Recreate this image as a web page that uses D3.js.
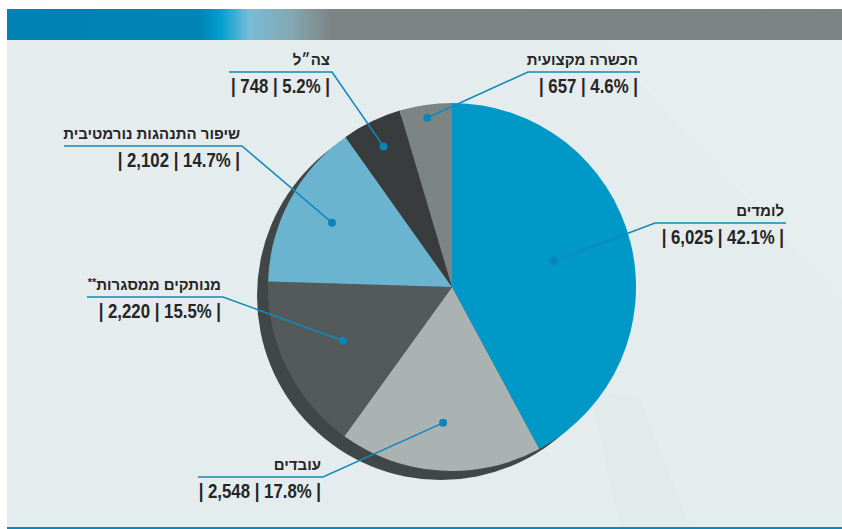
<!DOCTYPE html>
<html>
<head>
<meta charset="utf-8">
<script src="https://cdn.jsdelivr.net/npm/d3@7"></script>
<style>
  body { margin: 0; background: #fff; }
  svg { display: block; }
  .name { font-family: "Liberation Sans", "DejaVu Sans", sans-serif; font-weight: bold; font-size: 15px; fill: #262424; }
  .vals { font-family: "Liberation Sans", sans-serif; font-weight: bold; font-size: 20px; fill: #262424; }
</style>
</head>
<body>
<div id="chart"></div>
<script>
var categories = ["לומדים", "עובדים", "מנותקים ממסגרות", "שיפור התנהגות נורמטיבית", "צה״ל", "הכשרה מקצועית"];
var counts = [6025, 2548, 2220, 2102, 748, 657];
var percents = [42.1, 17.8, 15.5, 14.7, 5.2, 4.6];
var marks = ["", "", "**", "", "", ""];

var colors = ["#0099c7", "#aab2b2", "#545a5a", "#6bb4d0", "#383c3d", "#7d8484"];

// label placement: horizontal rule [x near pie, x far], y of rule, radial spot of the dot
var labelLayout = [
  { near: 655, far: 786, y: 223, dotR: 0.57 },
  { near: 323, far: 198, y: 477, dotR: 0.74 },
  { near: 223, far: 87, y: 297, dotR: 0.66 },
  { near: 242, far: 64, y: 146, dotR: 0.74 },
  { near: 332, far: 229, y: 72, dotR: 0.85 },
  { near: 528, far: 640, y: 72, dotR: 0.93 }
];

var width = 842, height = 529;
var cx = 452, cy = 287, radius = 184;

var svg = d3.select("#chart").append("svg")
  .attr("width", width)
  .attr("height", height);

var defs = svg.append("defs");
var grad = defs.append("linearGradient")
  .attr("id", "band")
  .attr("x1", 0).attr("x2", 1).attr("y1", 0).attr("y2", 0);
[[0, "#0082b4"], [0.23, "#0085b6"], [0.255, "#009fcf"], [0.29, "#79bcd8"], [0.34, "#84a8b2"], [0.39, "#7c8384"], [1, "#7e8383"]]
  .forEach(function(s) {
    grad.append("stop").attr("offset", s[0]).attr("stop-color", s[1]);
  });

// panel background
svg.append("rect")
  .attr("x", 7).attr("y", 40)
  .attr("width", width - 7).attr("height", 488)
  .attr("fill", "#e4ecee");

// faint light streaks in the background
svg.append("path")
  .attr("d", "M600,40 L842,40 L842,300 Z")
  .attr("fill", "#ffffff").attr("opacity", 0.1);
svg.append("path")
  .attr("d", "M590,390 L640,400 L690,528 L620,528 Z")
  .attr("fill", "#dfe7ea").attr("opacity", 0.5);

// top band
svg.append("rect")
  .attr("x", 7).attr("y", 9)
  .attr("width", width - 7).attr("height", 31)
  .attr("fill", "url(#band)");

// bottom rule
svg.append("rect")
  .attr("x", 7).attr("y", 527)
  .attr("width", width - 7).attr("height", 2)
  .attr("fill", "#0a87bd");

var pie = d3.pie().sort(null).value(function(d) { return d; });
var arcs = pie(counts);

var arc = d3.arc().innerRadius(0).outerRadius(radius);

// shadow disc
svg.append("circle")
  .attr("cx", cx - 11).attr("cy", cy + 9)
  .attr("r", radius)
  .attr("fill", "#414646");

var pieG = svg.append("g")
  .attr("transform", "translate(" + cx + "," + cy + ")");

pieG.selectAll("path")
  .data(arcs)
  .enter()
  .append("path")
  .attr("d", arc)
  .attr("fill", function(d, i) { return colors[i]; });

// leaders and labels
var lineColor = "#1388bb";

arcs.forEach(function(a, i) {
  var lay = labelLayout[i];
  var dotArc = d3.arc().innerRadius(0).outerRadius(radius * lay.dotR * 2);
  var c = dotArc.centroid(a);
  var dx = cx + c[0], dy = cy + c[1];

  svg.append("polyline")
    .attr("points", [[dx, dy], [lay.near, lay.y], [lay.far, lay.y]].map(function(p) { return p.join(","); }).join(" "))
    .attr("fill", "none")
    .attr("stroke", lineColor)
    .attr("stroke-width", 1.6);

  svg.append("circle")
    .attr("cx", dx).attr("cy", dy)
    .attr("r", 4)
    .attr("fill", "#0d84b6");

  var right = Math.max(lay.near, lay.far) - 2;

  var nm = svg.append("text")
    .attr("class", "name")
    .attr("x", right)
    .attr("y", lay.y - 7)
    .attr("text-anchor", "end");
  if (marks[i]) {
    nm.append("tspan")
      .attr("font-size", "11px")
      .attr("dy", -4)
      .text(marks[i]);
    nm.append("tspan")
      .attr("dy", 4)
      .text(categories[i]);
  } else {
    nm.text(categories[i]);
  }

  // condensed look: squeeze the value line horizontally
  svg.append("text")
    .attr("class", "vals")
    .attr("transform", "translate(" + right + "," + (lay.y + 21) + ") scale(0.84,1)")
    .attr("text-anchor", "end")
    .text("| " + d3.format(",")(counts[i]) + " | " + percents[i].toFixed(1) + "% |");
});
</script>
</body>
</html>
